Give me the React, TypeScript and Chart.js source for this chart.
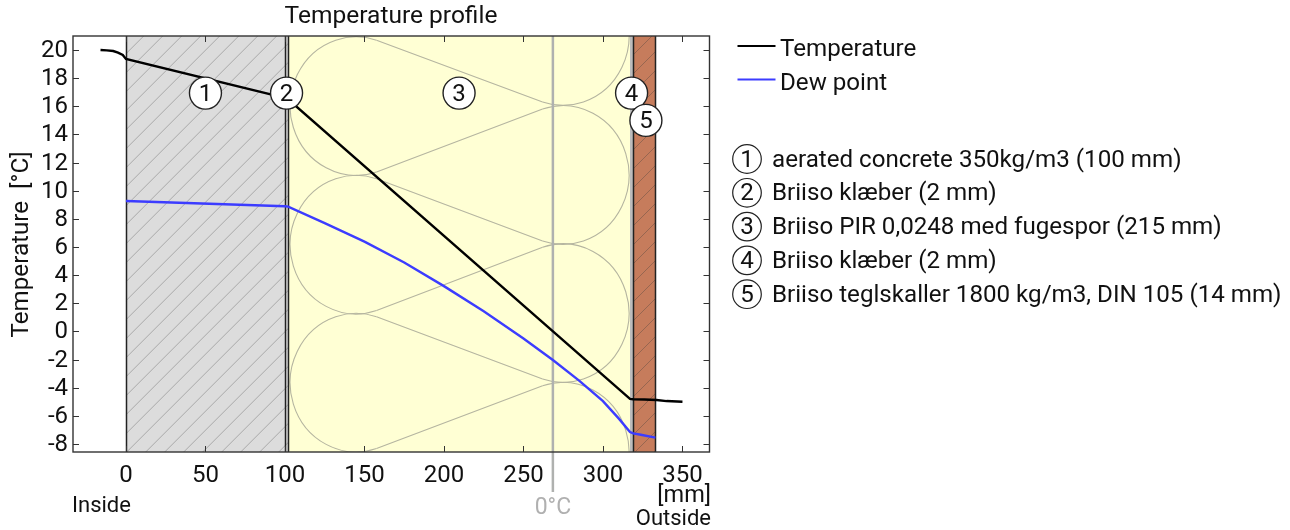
import React, { useEffect, useRef } from "react";
import { Chart, registerables } from "chart.js";

Chart.register(...registerables);

const FONT = "Roboto";
const INK = "#111111";

const temperatureX = [-16, -12, -8, -5, -2, 0, 100, 102, 317, 319, 326, 333.7, 340, 350];
const temperatureY = [20, 19.98, 19.93, 19.82, 19.65, 19.37, 16.6, 16.5, -4.8, -4.82, -4.84, -4.87, -4.95, -5];
const dewX = [0, 100, 102, 125, 150, 175, 200, 225, 250, 268.5, 285, 300, 310, 317, 319, 323, 333];
const dewY = [9.27, 8.9, 8.87, 7.7, 6.38, 4.9, 3.22, 1.43, -0.5, -2.03, -3.5, -4.95, -6.2, -7.15, -7.25, -7.33, -7.55];
const xTickValues = [0, 50, 100, 150, 200, 250, 300, 350];
const yTickValues = [-8, -6, -4, -2, 0, 2, 4, 6, 8, 10, 12, 14, 16, 18, 20];

const seriesNames = ["Temperature", "Dew point"];
const materialNames = [
  "aerated concrete 350kg/m3 (100 mm)",
  "Briiso klæber (2 mm)",
  "Briiso PIR 0,0248 med fugespor (215 mm)",
  "Briiso klæber (2 mm)",
  "Briiso teglskaller 1800 kg/m3, DIN 105 (14 mm)",
];
const layerStart = [0, 100, 102, 317, 319];
const layerEnd = [100, 102, 317, 319, 333];
const markerX = [50, 101, 209.5, 318, 327];
const markerY = [16.94, 16.94, 16.94, 16.94, 15];
const freezingX = 268.5;
const leftLobes = [16.02, 6.17, -3.64];
const rightLobes = [21.0, 11.12, 1.3, -8.55];

function hatch(ctx: CanvasRenderingContext2D, x0: number, x1: number, y0: number, y1: number, gap: number, phase: number, color: string) {
  ctx.save();
  ctx.beginPath();
  ctx.rect(x0, y0, x1 - x0, y1 - y0);
  ctx.clip();
  ctx.strokeStyle = color;
  ctx.lineWidth = 1;
  ctx.beginPath();
  const h = y1 - y0;
  let x = phase - y1;
  while (x > x0 - h) x -= gap;
  for (; x < x1 + h; x += gap) {
    ctx.moveTo(x, y1);
    ctx.lineTo(x + h, y0);
  }
  ctx.stroke();
  ctx.restore();
}

const wallPlugin = {
  id: "wall",
  beforeDatasetsDraw(chart: any) {
    const { ctx, chartArea: a, scales } = chart;
    const X = (v: number) => scales.x.getPixelForValue(v);
    const Y = (v: number) => scales.y.getPixelForValue(v);
    const fills = ["#dcdcdc", "#dcdcdc", "#ffffd4", "#bcbcbc", "#c67c5c"];
    layerStart.forEach((s, i) => {
      ctx.fillStyle = fills[i];
      ctx.fillRect(X(s), a.top, X(layerEnd[i]) - X(s), a.bottom - a.top);
    });
    hatch(ctx, X(layerStart[0]), X(layerEnd[1]), a.top, a.bottom, 19, 407.7, "#a8a8a8");
    hatch(ctx, X(layerStart[4]), X(layerEnd[4]), a.top, a.bottom, 19, 916, "#976650");

    ctx.save();
    ctx.beginPath();
    ctx.rect(X(layerStart[2]), a.top, X(layerEnd[2]) - X(layerStart[2]), a.bottom - a.top);
    ctx.clip();
    ctx.strokeStyle = "#b5b5a0";
    ctx.lineWidth = 1.1;
    const rx = 66;
    const ry = 69.3;
    const cl = X(layerStart[2]) + 2 + rx;
    const cr = X(layerEnd[2]) - 1 - rx;
    const t = (18 * Math.PI) / 180;
    const sn = Math.sin(t);
    const cs = Math.cos(t);
    leftLobes.forEach((v) => {
      const c = Y(v);
      ctx.beginPath();
      ctx.ellipse(cl, c, rx, ry, 0, Math.PI / 2 - t, -Math.PI / 2 + t);
      ctx.stroke();
    });
    rightLobes.forEach((v) => {
      const c = Y(v);
      ctx.beginPath();
      ctx.ellipse(cr, c, rx, ry, 0, -Math.PI / 2 - t, Math.PI / 2 + t);
      ctx.stroke();
    });
    ctx.beginPath();
    leftLobes.forEach((v) => {
      const c = Y(v);
      rightLobes.forEach((w) => {
        const d = Y(w);
        if (Math.abs(c - d) < 80) {
          const sign = d > c ? 1 : -1;
          ctx.moveTo(cl + rx * sn, c + sign * ry * cs);
          ctx.lineTo(cr - rx * sn, d - sign * ry * cs);
        }
      });
    });
    ctx.stroke();
    ctx.restore();

    ctx.strokeStyle = "#222222";
    ctx.lineWidth = 1.5;
    const edges = [layerStart[0], layerStart[1], layerStart[2], layerStart[4], layerEnd[4]];
    ctx.beginPath();
    edges.forEach((e) => {
      const p = Math.round(X(e)) + 0.5;
      ctx.moveTo(p, a.top);
      ctx.lineTo(p, a.bottom);
    });
    ctx.stroke();

    ctx.strokeStyle = "#afb1af";
    ctx.lineWidth = 2.5;
    ctx.beginPath();
    ctx.moveTo(X(freezingX), a.top);
    ctx.lineTo(X(freezingX), 492);
    ctx.stroke();
  },
  afterDatasetsDraw(chart: any) {
    const { ctx, chartArea: a, scales } = chart;
    const X = (v: number) => scales.x.getPixelForValue(v);
    const Y = (v: number) => scales.y.getPixelForValue(v);

    ctx.strokeStyle = "#333333";
    ctx.lineWidth = 1;
    ctx.beginPath();
    scales.x.ticks.forEach((t: any) => {
      const p = Math.round(X(t.value)) + 0.5;
      ctx.moveTo(p, a.bottom);
      ctx.lineTo(p, a.bottom - 6);
      ctx.moveTo(p, a.top);
      ctx.lineTo(p, a.top + 6);
    });
    scales.y.ticks.forEach((t: any) => {
      const p = Math.round(Y(t.value)) + 0.5;
      ctx.moveTo(a.left, p);
      ctx.lineTo(a.left + 6, p);
      ctx.moveTo(a.right, p);
      ctx.lineTo(a.right - 6, p);
    });
    ctx.stroke();

    ctx.strokeStyle = "#333333";
    ctx.lineWidth = 1.4;
    ctx.strokeRect(a.left, a.top, a.right - a.left, a.bottom - a.top);

    ctx.textAlign = "center";
    ctx.textBaseline = "middle";
    markerX.forEach((m, i) => {
      const cx = X(m);
      const cy = Y(markerY[i]);
      ctx.beginPath();
      ctx.arc(cx, cy, 16, 0, Math.PI * 2);
      ctx.fillStyle = "#ffffff";
      ctx.fill();
      ctx.strokeStyle = "#222222";
      ctx.lineWidth = 1.4;
      ctx.stroke();
      ctx.fillStyle = INK;
      ctx.font = `24px ${FONT}`;
      ctx.fillText(String(i + 1), cx, cy + 1.5);
    });

    ctx.fillStyle = INK;
    ctx.font = `24.5px ${FONT}`;
    ctx.textAlign = "center";
    ctx.fillText("Temperature profile", 391, 17);
    ctx.save();
    ctx.font = `24.2px ${FONT}`;
    ctx.translate(22, 244.5);
    ctx.rotate(-Math.PI / 2);
    ctx.fillText("Temperature  [°C]", 0, 0);
    ctx.restore();

    ctx.font = `23.5px ${FONT}`;
    ctx.textAlign = "right";
    ctx.fillText("[mm]", 711, 496);
    ctx.font = `22px ${FONT}`;
    ctx.fillText("Outside", 711, 519);
    ctx.textAlign = "left";
    ctx.fillText("Inside", 72, 506.5);
    ctx.textAlign = "center";
    ctx.fillStyle = "#b0b0b0";
    ctx.font = `23px ${FONT}`;
    ctx.fillText("0°C", X(freezingX), 508);

    ctx.font = `24.15px ${FONT}`;
    ctx.textAlign = "left";
    const colors = [chart.data.datasets[0].borderColor, chart.data.datasets[1].borderColor];
    seriesNames.forEach((name, i) => {
      const y = 46 + i * 33.6;
      ctx.strokeStyle = colors[i];
      ctx.lineWidth = 2;
      ctx.beginPath();
      ctx.moveTo(737.5, y);
      ctx.lineTo(775.5, y);
      ctx.stroke();
      ctx.fillStyle = INK;
      ctx.fillText(name, 780, y + 3.5 + i * 0.6);
    });
    materialNames.forEach((name, i) => {
      const y = 159 + i * 33.8;
      ctx.beginPath();
      ctx.arc(747, y, 14.3, 0, Math.PI * 2);
      ctx.strokeStyle = "#222222";
      ctx.lineWidth = 1.2;
      ctx.stroke();
      ctx.fillStyle = INK;
      ctx.textAlign = "center";
      ctx.fillText(String(i + 1), 747, y + 1.5);
      ctx.textAlign = "left";
      ctx.fillText(name, 772, y + 1.5);
    });
  },
};

const fixTicks = (values: number[]) => (s: any) => {
  s.ticks = values.map((value) => ({ value }));
};

export default function App() {
  const ref = useRef<HTMLCanvasElement>(null);
  useEffect(() => {
    const chart = new Chart(ref.current as HTMLCanvasElement, {
      type: "line",
      data: {
        datasets: [
          {
            label: seriesNames[0],
            data: temperatureX.map((x, i) => ({ x, y: temperatureY[i] })),
            borderColor: "#000000",
            borderWidth: 2.4,
            pointRadius: 0,
            tension: 0,
          },
          {
            label: seriesNames[1],
            data: dewX.map((x, i) => ({ x, y: dewY[i] })),
            borderColor: "#3c3cff",
            borderWidth: 2.4,
            pointRadius: 0,
            tension: 0,
          },
        ],
      },
      options: {
        responsive: false,
        animation: false,
        layout: { padding: { top: 36, right: 580.5, left: 0, bottom: 0 } },
        plugins: { legend: { display: false }, title: { display: false }, tooltip: { enabled: false } },
        scales: {
          x: {
            type: "linear",
            min: -33.3,
            max: 367,
            afterBuildTicks: fixTicks(xTickValues),
            afterFit: (s: any) => {
              s.height = 78;
            },
            grid: { display: false, tickLength: 5 },
            border: { display: false },
            ticks: {
              autoSkip: false,
              maxRotation: 0,
              padding: 5,
              color: INK,
              font: { family: FONT, size: 24 },
            },
          },
          y: {
            type: "linear",
            min: -8.57,
            max: 21,
            afterBuildTicks: fixTicks(yTickValues),
            afterFit: (s: any) => {
              s.width = 73;
            },
            grid: { display: false, tickLength: 5 },
            border: { display: false },
            ticks: {
              autoSkip: false,
              padding: 0,
              labelOffset: 1,
              color: INK,
              font: { family: FONT, size: 24 },
            },
          },
        },
      },
      plugins: [wallPlugin],
    } as any);
    return () => chart.destroy();
  }, []);
  return (
    <div style={{ position: "absolute", left: 0, top: 0, width: 1290, height: 530, background: "#fff" }}>
      <canvas ref={ref} width={1290} height={530} style={{ display: "block" }} />
    </div>
  );
}
